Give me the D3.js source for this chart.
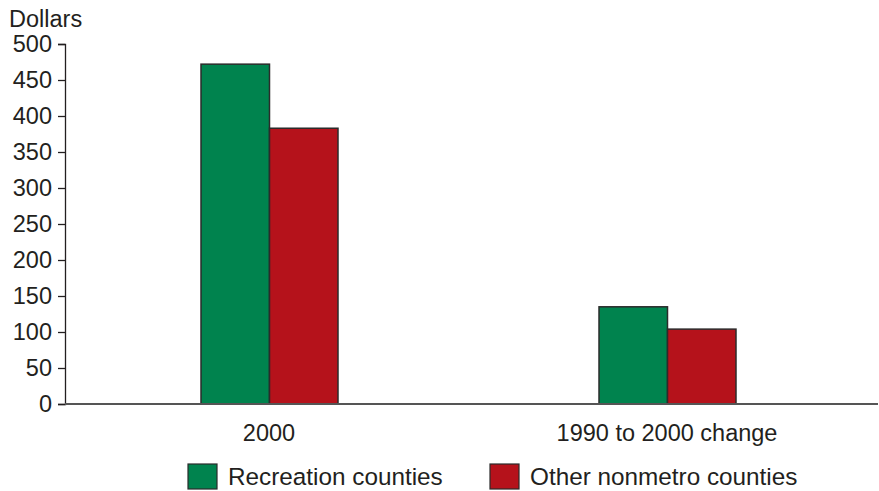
<!DOCTYPE html>
<html>
<head>
<meta charset="utf-8">
<script src="https://cdn.jsdelivr.net/npm/d3@7"></script>
<style>
  body { margin: 0; background: #fff; }
  svg text { font-family: "Liberation Sans", Arial, sans-serif; fill: #231f20; }
</style>
</head>
<body>
<div id="chart"></div>
<script>
// data
var categories = ["2000", "1990 to 2000 change"];
var seriesNames = ["Recreation counties", "Other nonmetro counties"];
var recreation = [472, 135];
var otherNonmetro = [383, 104];
var yTicks = [0, 50, 100, 150, 200, 250, 300, 350, 400, 450, 500];
var colors = ["#00834e", "#b5121b"];

var width = 879, height = 491;
var svg = d3.select("#chart").append("svg")
    .attr("width", width)
    .attr("height", height);

var x0 = 65, yBottom = 404, yTop = 44;

var y = d3.scaleLinear().domain([0, 500]).range([yBottom, yTop]);

var x = d3.scaleBand().domain(categories).range([70, 866]);
var xInner = d3.scaleBand().domain(seriesNames).range([0, 137]);

// y axis
var yAxis = svg.append("g")
    .attr("transform", "translate(" + x0 + ",0)")
    .call(d3.axisLeft(y).tickValues(yTicks).tickSize(7).tickPadding(6));
yAxis.select(".domain").attr("stroke", "#231f20").attr("stroke-width", 1.3);
yAxis.selectAll(".tick line").attr("stroke", "#231f20").attr("stroke-width", 1.3);
yAxis.selectAll(".tick text").style("font-size", "23.5px").attr("fill", "#231f20");

svg.append("text")
    .attr("x", 9)
    .attr("y", 27)
    .style("font-size", "23.5px")
    .text("Dollars");

// bars
var rows = categories.map(function(c, i) {
    return [
        { cat: c, s: seriesNames[0], v: recreation[i], color: colors[0] },
        { cat: c, s: seriesNames[1], v: otherNonmetro[i], color: colors[1] }
    ];
});

var groups = svg.selectAll(".grp")
    .data(rows)
    .enter().append("g")
    .attr("class", "grp")
    .attr("transform", function(d) {
        return "translate(" + (x(d[0].cat) + x.bandwidth() / 2 - 68) + ",0)";
    });

groups.selectAll("rect")
    .data(function(d) { return d; })
    .enter().append("rect")
    .attr("x", function(d) { return xInner(d.s); })
    .attr("y", function(d) { return y(d.v); })
    .attr("width", xInner.bandwidth())
    .attr("height", function(d) { return yBottom - y(d.v); })
    .attr("fill", function(d) { return d.color; })
    .attr("stroke", "#2b2b2b")
    .attr("stroke-width", 1.5);

// x axis
svg.append("line")
    .attr("x1", x0).attr("x2", 878)
    .attr("y1", yBottom).attr("y2", yBottom)
    .attr("stroke", "#555")
    .attr("stroke-width", 2);

svg.selectAll(".xlab")
    .data(categories)
    .enter().append("text")
    .attr("class", "xlab")
    .attr("x", function(d) { return x(d) + x.bandwidth() / 2; })
    .attr("y", 441)
    .attr("text-anchor", "middle")
    .style("font-size", "23.5px")
    .text(function(d) { return d; });

// legend
var legendX = [188, 490];
var legend = svg.selectAll(".leg")
    .data(seriesNames)
    .enter().append("g")
    .attr("class", "leg")
    .attr("transform", function(d, i) { return "translate(" + legendX[i] + ",464)"; });

legend.append("rect")
    .attr("width", 29)
    .attr("height", 25)
    .attr("fill", function(d, i) { return colors[i]; })
    .attr("stroke", "#2b2b2b")
    .attr("stroke-width", 1.2);

legend.append("text")
    .attr("x", 40)
    .attr("y", 21)
    .style("font-size", "24.3px")
    .text(function(d) { return d; });
</script>
</body>
</html>
